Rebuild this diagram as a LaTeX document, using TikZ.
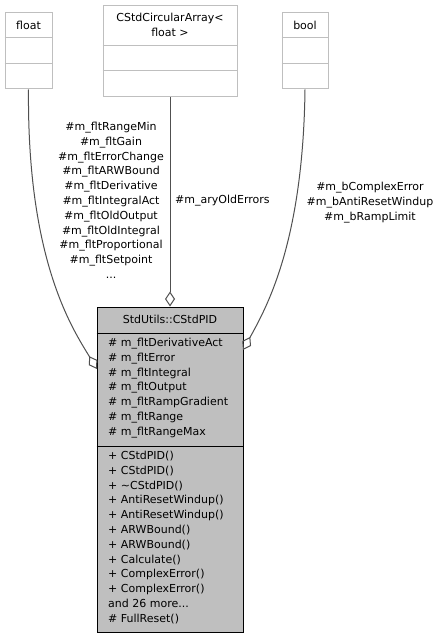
\documentclass[tikz,border=0pt]{standalone}
\usepackage{fontspec}
\setmainfont{DejaVu Sans}
\usetikzlibrary{arrows.meta}
\definecolor{boxgray}{HTML}{BFBFBF}
\definecolor{edgegray}{HTML}{505050}
\begin{document}
\begin{tikzpicture}[x=1pt,y=-1pt,
  txt/.style={inner sep=0pt,font=\fontsize{11}{14.8}\selectfont},
  typebox/.style={draw=boxgray,line width=1pt,fill=white,inner sep=0pt},
  mainbox/.style={draw=black,line width=1pt,fill=boxgray,inner sep=0pt},
  edge/.style={draw=edgegray,line width=1pt,-{Diamond[open,length=15pt,width=10pt,line width=1pt]}}]
\useasboundingbox[fill=white] (0,0) rectangle (441,639);

% float box
\node[typebox,minimum width=47pt,minimum height=76pt] (float) at (28.5,51) {};
\draw[boxgray,line width=1pt] (float.west |- 0,38) -- (float.east |- 0,38);
\draw[boxgray,line width=1pt] (float.west |- 0,64) -- (float.east |- 0,64);
\node[txt] (floatT) at (28.5,25.5) {float};

% CStdCircularArray box
\node[typebox,minimum width=134pt,minimum height=91pt] (arr) at (170,51.5) {};
\draw[boxgray,line width=1pt] (arr.west |- 0,46) -- (arr.east |- 0,46);
\draw[boxgray,line width=1pt] (arr.west |- 0,71) -- (arr.east |- 0,71);
\node[txt,align=center,anchor=north] (arrT) at (170,13) {CStdCircularArray<\\float >};

% bool box
\node[typebox,minimum width=46pt,minimum height=76pt] (bool) at (305,51) {};
\draw[boxgray,line width=1pt] (bool.west |- 0,38) -- (bool.east |- 0,38);
\draw[boxgray,line width=1pt] (bool.west |- 0,64) -- (bool.east |- 0,64);
\node[txt] (boolT) at (305,25.5) {bool};

% main class box
\node[mainbox,minimum width=146pt,minimum height=325pt] (pid) at (170,469.5) {};
\draw[black,line width=1pt] (pid.west |- 0,333) -- (pid.east |- 0,333);
\draw[black,line width=1pt] (pid.west |- 0,446) -- (pid.east |- 0,446);
\node[txt] (pidT) at (170,319.5) {StdUtils::CStdPID};
\node[txt,align=left,anchor=north west] (attrs) at (108,338) {%
\# m\_fltDerivativeAct\\
\# m\_fltError\\
\# m\_fltIntegral\\
\# m\_fltOutput\\
\# m\_fltRampGradient\\
\# m\_fltRange\\
\# m\_fltRangeMax};
\node[txt,align=left,anchor=north west] (meths) at (108,451) {%
+ CStdPID()\\
+ CStdPID()\\
+ \textasciitilde CStdPID()\\
+ AntiResetWindup()\\
+ AntiResetWindup()\\
+ ARWBound()\\
+ ARWBound()\\
+ Calculate()\\
+ ComplexError()\\
+ ComplexError()\\
and 26 more...\\
\# FullReset()};

% connector end points on the class box
\coordinate (pidL) at (97,369);
\coordinate (pidR) at (243,350);

% connectors
\draw[edge] (float.south) .. controls (27,260) and (72,328) .. (pidL);
\draw[edge] (arr.south) -- (pid.north);
\draw[edge] (bool.south) .. controls (303,240) and (268,305) .. (pidR);

% labels
\node[txt,align=center,anchor=north] (lblL) at (111,122) {%
\#m\_fltRangeMin\\
\#m\_fltGain\\
\#m\_fltErrorChange\\
\#m\_fltARWBound\\
\#m\_fltDerivative\\
\#m\_fltIntegralAct\\
\#m\_fltOldOutput\\
\#m\_fltOldIntegral\\
\#m\_fltProportional\\
\#m\_fltSetpoint\\
...};
\node[txt,anchor=west] (lblM) at (175,201) {\#m\_aryOldErrors};
\node[txt,align=center,anchor=north] (lblR) at (370,182) {%
\#m\_bComplexError\\
\#m\_bAntiResetWindup\\
\#m\_bRampLimit};
\end{tikzpicture}
\end{document}
